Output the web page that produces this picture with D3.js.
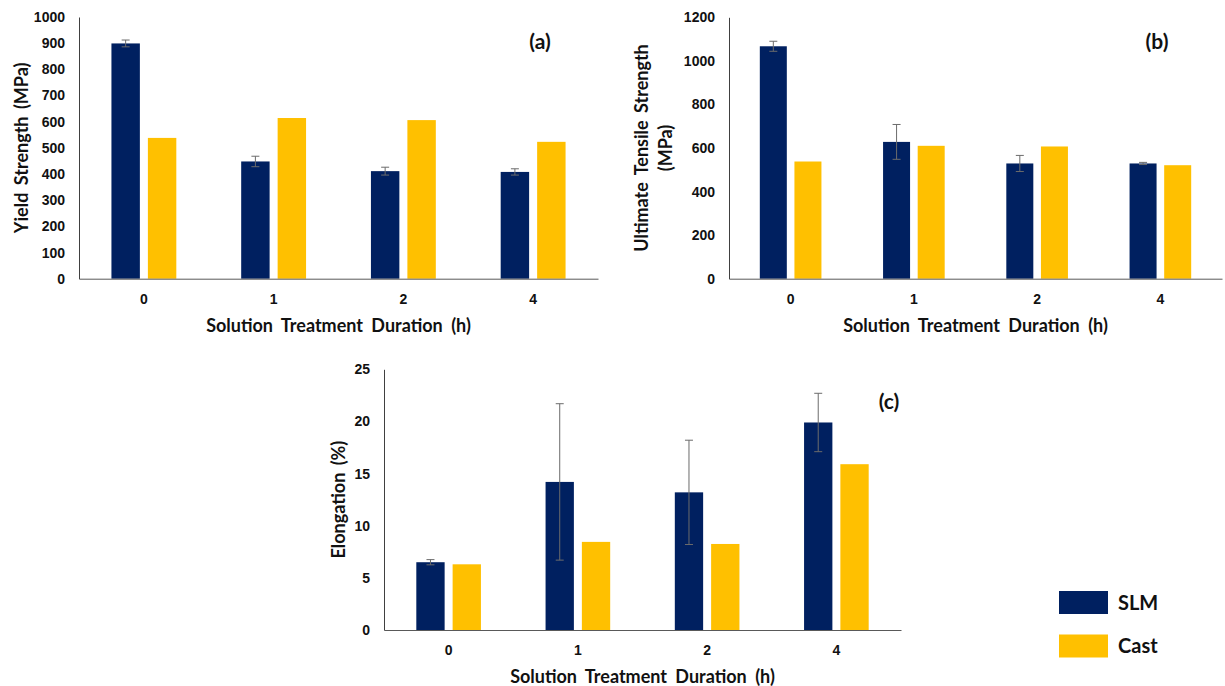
<!DOCTYPE html>
<html>
<head>
<meta charset="utf-8">
<script src="https://cdn.jsdelivr.net/npm/d3@7"></script>
<style>
  body { margin: 0; background: #fff; }
  svg { display: block; font-family: Lato, "Open Sans", sans-serif; }
  .tick text { font-weight: bold; fill: #111; }
</style>
</head>
<body>
<svg id="chart" width="1225" height="686" viewBox="0 0 1225 686"></svg>
<script>
// categories (solution treatment duration, h) and series names
const categories = ["0", "1", "2", "4"];
const seriesNames = ["SLM", "Cast"];

// (a) yield strength, MPa
const yieldSLM = [899, 448, 411, 408];
const yieldSLMErr = [13, 20, 15, 12];
const yieldCast = [538, 614, 606, 523];

// (b) ultimate tensile strength, MPa
const utsSLM = [1067, 628, 529, 529];
const utsSLMErr = [23, 80, 37, 5];
const utsCast = [538, 610, 607, 521];

// (c) elongation, %
const elongSLM = [6.5, 14.2, 13.2, 19.9];
const elongSLMErr = [0.25, 7.5, 5.0, 2.8];
const elongCast = [6.3, 8.45, 8.25, 15.9];

// y tick values per panel
const yieldTicks = [0, 100, 200, 300, 400, 500, 600, 700, 800, 900, 1000];
const utsTicks = [0, 200, 400, 600, 800, 1000, 1200];
const elongTicks = [0, 5, 10, 15, 20, 25];

const colors = { SLM: "#002060", Cast: "#FFC000" };

const svg = d3.select("#chart");

function drawPanel(p) {
    const g = svg.append("g");

    const x0 = d3.scaleBand()
        .domain(categories)
        .range([p.left, p.right])
        .padding(0);
    const B = x0.bandwidth();
    // the two bars sit in the middle half of each band
    const x1 = d3.scaleBand()
        .domain(seriesNames)
        .range([B * 0.25, B * 0.75])
        .paddingInner(0.22);

    const y = d3.scaleLinear()
        .domain([0, p.ymax])
        .range([p.bottom, p.top]);

    const rows = categories.map((c, i) => ({
        cat: c,
        SLM: p.slm[i],
        err: p.err[i],
        Cast: p.cast[i]
    }));

    // bars
    const groups = g.selectAll(".grp")
        .data(rows)
        .enter()
        .append("g")
        .attr("transform", d => `translate(${x0(d.cat)},0)`);

    groups.selectAll("rect")
        .data(d => seriesNames.map(s => ({ s: s, v: d[s] })))
        .enter()
        .append("rect")
        .attr("x", d => x1(d.s))
        .attr("width", x1.bandwidth())
        .attr("y", d => y(d.v))
        .attr("height", d => y(0) - y(d.v))
        .attr("fill", d => colors[d.s]);

    // error bars on SLM only
    const eb = groups.append("g")
        .attr("stroke", "#6b6b6b")
        .attr("stroke-width", 1);
    const cx = x1("SLM") + x1.bandwidth() / 2;
    eb.append("line")
        .attr("x1", cx).attr("x2", cx)
        .attr("y1", d => y(d.SLM + d.err))
        .attr("y2", d => y(d.SLM - d.err));
    eb.append("line")
        .attr("x1", cx - 4).attr("x2", cx + 4)
        .attr("y1", d => y(d.SLM + d.err))
        .attr("y2", d => y(d.SLM + d.err));
    eb.append("line")
        .attr("x1", cx - 4).attr("x2", cx + 4)
        .attr("y1", d => y(d.SLM - d.err))
        .attr("y2", d => y(d.SLM - d.err));

    // axes
    const yAxis = g.append("g")
        .attr("transform", `translate(${p.left},0)`)
        .call(d3.axisLeft(y).tickValues(p.ticks).tickFormat(d3.format("d"))
            .tickSize(0).tickSizeOuter(0).tickPadding(14));
    yAxis.select(".domain").attr("stroke", "#404040");
    yAxis.selectAll("text").style("font-size", "14px");

    const xAxis = g.append("g")
        .attr("transform", `translate(0,${p.bottom})`)
        .call(d3.axisBottom(x0).tickSize(0).tickSizeOuter(0).tickPadding(15));
    xAxis.select(".domain").attr("stroke", "#595959");
    xAxis.selectAll("text").style("font-size", "14px");

    // x axis title
    g.append("text")
        .attr("x", (p.left + p.right) / 2)
        .attr("y", p.bottom + 53)
        .attr("text-anchor", "middle")
        .style("font-size", "18px")
        .style("font-weight", "bold")
        .style("word-spacing", "4px")
        .attr("fill", "#111")
        .text("Solution Treatment Duration (h)");

    // y axis title, one or two lines
    const ymid = (p.top + p.bottom) / 2;
    p.ytitle.forEach((t, i) => {
        g.append("text")
            .attr("transform", `translate(${p.ytitleX + i * 24},${ymid}) rotate(-90)`)
            .attr("text-anchor", "middle")
            .style("font-size", "18px")
            .style("font-weight", "bold")
            .style("word-spacing", "3px")
            .attr("fill", "#111")
            .text(t);
    });

    // panel letter
    g.append("text")
        .attr("x", p.labelX)
        .attr("y", p.labelY)
        .attr("text-anchor", "middle")
        .style("font-size", "21px")
        .style("font-weight", "bold")
        .attr("fill", "#111")
        .text(p.label);
}

drawPanel({
    left: 79, right: 598, top: 17, bottom: 278.7, ymax: 1000,
    slm: yieldSLM, err: yieldSLMErr, cast: yieldCast, ticks: yieldTicks,
    ytitle: ["Yield Strength (MPa)"], ytitleX: 28,
    label: "(a)", labelX: 540, labelY: 49
});

drawPanel({
    left: 729, right: 1222, top: 17.3, bottom: 278.7, ymax: 1200,
    slm: utsSLM, err: utsSLMErr, cast: utsCast, ticks: utsTicks,
    ytitle: ["Ultimate Tensile Strength", "(MPa)"], ytitleX: 648,
    label: "(b)", labelX: 1157, labelY: 49
});

drawPanel({
    left: 384, right: 901, top: 369.3, bottom: 630, ymax: 25,
    slm: elongSLM, err: elongSLMErr, cast: elongCast, ticks: elongTicks,
    ytitle: ["Elongation (%)"], ytitleX: 345,
    label: "(c)", labelX: 889, labelY: 409
});

// legend
const legend = svg.append("g")
    .selectAll("g")
    .data(seriesNames)
    .enter()
    .append("g")
    .attr("transform", (d, i) => `translate(1059,${591 + i * 43.5})`);

legend.append("rect")
    .attr("width", 49)
    .attr("height", 23)
    .attr("fill", d => colors[d]);

legend.append("text")
    .attr("x", 59)
    .attr("y", 18.5)
    .style("font-size", "20px")
    .style("font-weight", "bold")
    .attr("fill", "#111")
    .text(d => d);
</script>
</body>
</html>
